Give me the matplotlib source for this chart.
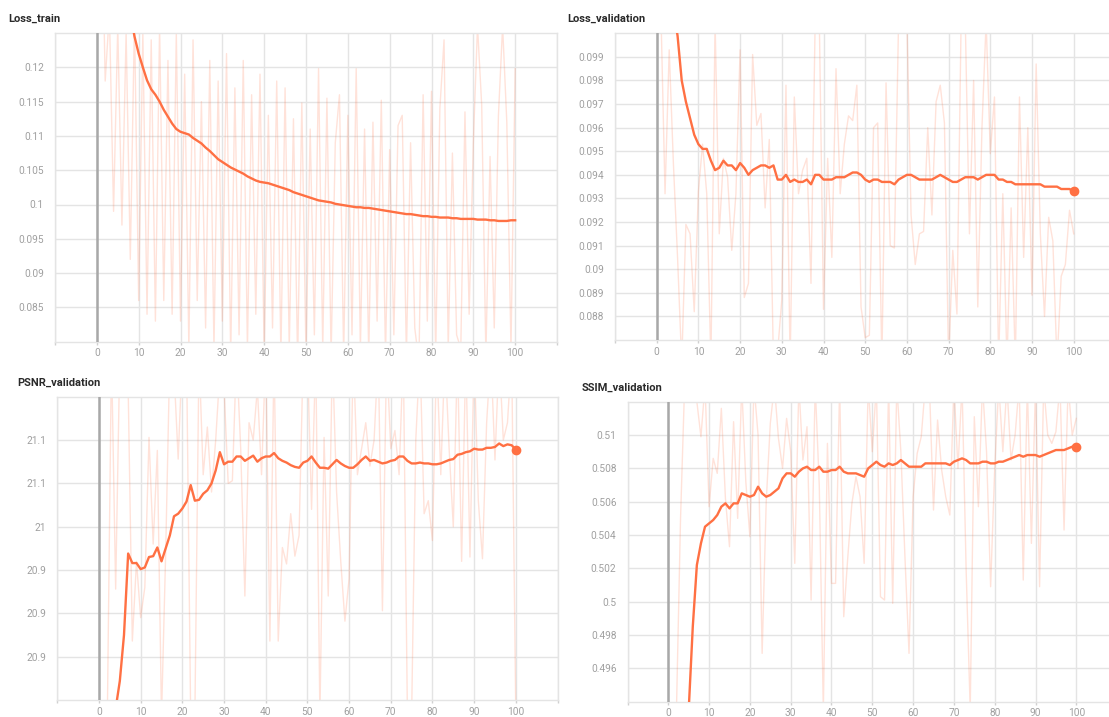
import matplotlib
matplotlib.use('Agg')
import matplotlib.pyplot as plt
import numpy as np

plt.rcParams.update({
    'font.family': ['Roboto', 'DejaVu Sans'],
    'figure.dpi': 100,
})

FIG_W, FIG_H = 1109, 717

STEPS = list(range(101))
X_TICKS = list(range(-10, 111, 10))
X_LABELS = ['' if t < 0 or t > 100 else str(t) for t in X_TICKS]

# ---- Loss_train -------------------------------------------------------------
LOSS_TRAIN_RAW = [
    0.16, 0.15, 0.118, 0.128, 0.099, 0.126, 0.097, 0.125, 0.092, 0.127,
    0.086, 0.125, 0.084, 0.124, 0.083, 0.126, 0.086, 0.121, 0.084, 0.125,
    0.083, 0.119, 0.079, 0.124, 0.086, 0.115, 0.082, 0.121, 0.079, 0.118,
    0.083, 0.122, 0.078, 0.117, 0.081, 0.121, 0.079, 0.116, 0.084, 0.119,
    0.078, 0.113, 0.082, 0.118, 0.078, 0.117, 0.079, 0.1125, 0.077, 0.1148,
    0.078, 0.111, 0.081, 0.1198, 0.079, 0.1155, 0.078, 0.109, 0.116, 0.078,
    0.113, 0.081, 0.1198, 0.079, 0.111, 0.078, 0.112, 0.083, 0.1152, 0.078,
    0.108, 0.081, 0.1115, 0.113, 0.078, 0.109, 0.082, 0.077, 0.116, 0.083,
    0.1165, 0.078, 0.114, 0.124, 0.079, 0.1075, 0.081, 0.079, 0.1135, 0.084,
    0.109, 0.126, 0.1145, 0.078, 0.107, 0.082, 0.113, 0.126, 0.112, 0.079,
    0.1198,
]
LOSS_TRAIN_SMOOTH = [
    0.175, 0.168, 0.160, 0.153, 0.147, 0.141, 0.136, 0.132, 0.128, 0.1245,
    0.1220, 0.1200, 0.1181, 0.1168, 0.1160, 0.1150, 0.1138, 0.1128, 0.1118, 0.1110,
    0.1106, 0.1104, 0.1102, 0.1097, 0.1093, 0.1089, 0.1083, 0.1078, 0.1072, 0.1066,
    0.1062, 0.1058, 0.1054, 0.1051, 0.1048, 0.1045, 0.1041, 0.1038, 0.1035, 0.1033,
    0.1032, 0.1031, 0.1029, 0.1027, 0.1025, 0.1023, 0.1021, 0.1018, 0.1016, 0.1014,
    0.1012, 0.1010, 0.1008, 0.1006, 0.1005, 0.1004, 0.1003, 0.1001, 0.1000, 0.0999,
    0.0998, 0.0997, 0.0996, 0.0996, 0.0995, 0.0995, 0.0994, 0.0993, 0.0992, 0.0991,
    0.0990, 0.0989, 0.0988, 0.0987, 0.0986, 0.0986, 0.0985, 0.0984, 0.0983, 0.0983,
    0.0982, 0.0982, 0.0981, 0.0981, 0.0981, 0.0980, 0.0980, 0.0979, 0.0979, 0.0979,
    0.0979, 0.0978, 0.0978, 0.0978, 0.0977, 0.0977, 0.0976, 0.0976, 0.0976, 0.0977,
    0.0977,
]
LOSS_TRAIN_YTICKS = [0.085, 0.09, 0.095, 0.1, 0.105, 0.11, 0.115, 0.12]
LOSS_TRAIN_YLABELS = ['0.085', '0.09', '0.095', '0.1', '0.105', '0.11', '0.115', '0.12']

# ---- Loss_validation --------------------------------------------------------
LOSS_VAL_RAW = [
    0.105, 0.101, 0.0932, 0.0993, 0.0945, 0.0905, 0.086, 0.0919, 0.0915, 0.0882,
    0.0933, 0.0953, 0.0932, 0.086, 0.1005, 0.0915, 0.0947, 0.0939, 0.0908, 0.0932,
    0.0993, 0.0888, 0.0894, 0.0991, 0.0961, 0.0966, 0.0926, 0.0955, 0.086, 0.0865,
    0.0887, 0.0978, 0.086, 0.0973, 0.0932, 0.0942, 0.0947, 0.0894, 0.1005, 0.1005,
    0.0883, 0.0947, 0.0905, 0.0985, 0.0932, 0.0953, 0.0965, 0.0963, 0.0978, 0.0884,
    0.0871, 0.0872, 0.0960, 0.0962, 0.086, 0.0979, 0.0910, 0.0909, 0.1005, 0.1005,
    0.1005, 0.0923, 0.0902, 0.0915, 0.0916, 0.0960, 0.0923, 0.0971, 0.0978, 0.0962,
    0.086, 0.0908, 0.0881, 0.1005, 0.1005, 0.0915, 0.0980, 0.0884, 0.0960, 0.1005,
    0.0949, 0.0973, 0.086, 0.0932, 0.086, 0.0926, 0.086, 0.0973, 0.0905, 0.0960,
    0.0889, 0.0987, 0.0915, 0.0880, 0.0922, 0.0912, 0.086, 0.0897, 0.0902, 0.0925,
    0.0915,
]
LOSS_VAL_SMOOTH = [
    0.1050, 0.1040, 0.1030, 0.1020, 0.1010, 0.0999, 0.0980, 0.0971, 0.0964, 0.0957,
    0.0953, 0.0951, 0.0951, 0.0946, 0.0942, 0.0943, 0.0946, 0.0944, 0.0944, 0.0942,
    0.0945, 0.0943, 0.0940, 0.0942, 0.0943, 0.0944, 0.0944, 0.0943, 0.0944, 0.0938,
    0.0938, 0.0940, 0.0937, 0.0938, 0.0937, 0.0937, 0.0938, 0.0936, 0.0940, 0.0940,
    0.0938, 0.0938, 0.0938, 0.0939, 0.0939, 0.0939, 0.0940, 0.0941, 0.0941, 0.0940,
    0.0938, 0.0937, 0.0938, 0.0938, 0.0937, 0.0937, 0.0937, 0.0936, 0.0938, 0.0939,
    0.0940, 0.0940, 0.0939, 0.0938, 0.0938, 0.0938, 0.0938, 0.0939, 0.0940, 0.0939,
    0.0938, 0.0937, 0.0937, 0.0938, 0.0939, 0.0939, 0.0939, 0.0938, 0.0939, 0.0940,
    0.0940, 0.0940, 0.0938, 0.0938, 0.0937, 0.0937, 0.0936, 0.0936, 0.0936, 0.0936,
    0.0936, 0.0936, 0.0936, 0.0935, 0.0935, 0.0935, 0.0935, 0.0934, 0.0934, 0.0934,
    0.0933,
]
LOSS_VAL_YTICKS = [0.088, 0.089, 0.09, 0.091, 0.092, 0.093, 0.094, 0.095,
                   0.096, 0.097, 0.098, 0.099]
LOSS_VAL_YLABELS = ['0.088', '0.089', '0.09', '0.091', '0.092', '0.093', '0.094',
                    '0.095', '0.096', '0.097', '0.098', '0.099']

# ---- PSNR_validation --------------------------------------------------------
PSNR_RAW = [
    20.60, 20.70, 20.78, 21.20, 20.928, 21.20, 21.20, 21.16, 20.868, 20.96,
    20.895, 20.93, 21.103, 20.98, 21.088, 20.78, 20.97, 21.20, 21.18, 21.078,
    21.20, 21.20, 20.78, 20.78, 21.20, 21.06, 21.115, 21.04, 21.10, 21.18,
    21.16, 21.05, 21.053, 21.20, 21.09, 20.92, 21.12, 21.10, 21.16, 21.06,
    21.20, 20.868, 21.20, 20.868, 20.976, 20.957, 21.015, 20.966, 20.99, 21.20,
    21.20, 21.02, 21.20, 20.78, 21.103, 20.92, 21.20, 21.04, 20.96, 20.891,
    20.94, 21.20, 21.06, 21.09, 21.12, 21.07, 21.10, 21.20, 20.903, 21.20,
    21.09, 21.111, 21.06, 21.20, 20.78, 20.78, 21.10, 21.20, 21.015, 21.03,
    20.984, 21.20, 21.06, 21.20, 21.09, 21.00, 21.20, 20.96, 21.20, 20.965,
    21.20, 21.03, 20.963, 21.12, 21.20, 21.077, 21.20, 21.10, 21.12, 21.20,
    20.78,
]
PSNR_SMOOTH = [
    20.60, 20.65, 20.70, 20.74, 20.79, 20.822, 20.875, 20.969, 20.958, 20.958,
    20.951, 20.953, 20.965, 20.966, 20.976, 20.960, 20.975, 20.990, 21.012, 21.015,
    21.021, 21.029, 21.048, 21.030, 21.031, 21.038, 21.042, 21.050, 21.065, 21.086,
    21.072, 21.075, 21.075, 21.081, 21.081, 21.076, 21.079, 21.082, 21.075, 21.079,
    21.081, 21.081, 21.085, 21.079, 21.076, 21.074, 21.071, 21.069, 21.068, 21.074,
    21.076, 21.081, 21.074, 21.068, 21.068, 21.067, 21.072, 21.077, 21.073, 21.070,
    21.068, 21.068, 21.072, 21.077, 21.081, 21.076, 21.077, 21.075, 21.073, 21.074,
    21.076, 21.077, 21.081, 21.081, 21.076, 21.073, 21.073, 21.074, 21.073, 21.073,
    21.072, 21.072, 21.073, 21.075, 21.077, 21.078, 21.083, 21.084, 21.086, 21.087,
    21.090, 21.089, 21.089, 21.091, 21.091, 21.092, 21.096, 21.093, 21.095, 21.094,
    21.089,
]
PSNR_YTICKS = [20.85, 20.9, 20.95, 21.0, 21.05, 21.1]
PSNR_YLABELS = ['20.9', '20.9', '20.9', '21', '21.1', '21.1']

# ---- SSIM_validation --------------------------------------------------------
SSIM_RAW = [
    0.480, 0.488, 0.4935, 0.505, 0.513, 0.513, 0.513, 0.512, 0.5099, 0.513,
    0.5057, 0.5086, 0.5077, 0.5116, 0.5062, 0.5033, 0.5108, 0.5050, 0.513, 0.5072,
    0.5039, 0.513, 0.5100, 0.4969, 0.5060, 0.5107, 0.513, 0.5098, 0.5080, 0.5110,
    0.5090, 0.5023, 0.513, 0.5085, 0.5105, 0.5001, 0.513, 0.5070, 0.4935, 0.5095,
    0.5011, 0.5011, 0.513, 0.4991, 0.5027, 0.5059, 0.5075, 0.5063, 0.5023, 0.513,
    0.5090, 0.513, 0.5003, 0.5001, 0.513, 0.4999, 0.513, 0.5090, 0.5027, 0.4969,
    0.5063, 0.5089, 0.5099, 0.513, 0.513, 0.5055, 0.5109, 0.5079, 0.5063, 0.5052,
    0.513, 0.5080, 0.513, 0.5019, 0.4935, 0.5111, 0.5057, 0.513, 0.5090, 0.5009,
    0.5080, 0.513, 0.5090, 0.513, 0.5085, 0.5100, 0.513, 0.5013, 0.513, 0.5035,
    0.513, 0.5009, 0.513, 0.5100, 0.5095, 0.5102, 0.513, 0.5043, 0.513, 0.5100,
    0.5110,
]
SSIM_SMOOTH = [
    0.480, 0.483, 0.486, 0.489, 0.492, 0.4935, 0.4985, 0.5022, 0.5035, 0.5045,
    0.5047, 0.5049, 0.5052, 0.5057, 0.5059, 0.5056, 0.5059, 0.5059, 0.5065, 0.5064,
    0.5063, 0.5064, 0.5069, 0.5065, 0.5063, 0.5064, 0.5066, 0.5068, 0.5074, 0.5077,
    0.5077, 0.5075, 0.5078, 0.5080, 0.5081, 0.5079, 0.5079, 0.5081, 0.5078, 0.5078,
    0.5079, 0.5079, 0.5081, 0.5078, 0.5077, 0.5077, 0.5077, 0.5076, 0.5075, 0.5080,
    0.5082, 0.5084, 0.5082, 0.5081, 0.5083, 0.5082, 0.5083, 0.5085, 0.5083, 0.5081,
    0.5081, 0.5081, 0.5081, 0.5083, 0.5083, 0.5083, 0.5083, 0.5083, 0.5083, 0.5082,
    0.5084, 0.5085, 0.5086, 0.5085, 0.5083, 0.5083, 0.5083, 0.5084, 0.5084, 0.5083,
    0.5083, 0.5084, 0.5084, 0.5085, 0.5086, 0.5087, 0.5088, 0.5087, 0.5088, 0.5088,
    0.5088, 0.5087, 0.5088, 0.5089, 0.5090, 0.5091, 0.5091, 0.5091, 0.5092, 0.5093,
    0.5093,
]
SSIM_YTICKS = [0.496, 0.498, 0.5, 0.502, 0.504, 0.506, 0.508, 0.51]
SSIM_YLABELS = ['0.496', '0.498', '0.5', '0.502', '0.504', '0.506', '0.508', '0.51']

LINE_COLOR = '#ff7043'
GRID_COLOR = '#e4e4e4'
ZERO_COLOR = '#a8a8a8'
TICK_COLOR = '#a0a0a0'
TITLE_COLOR = '#2a2a2a'


def px_box(left, top, right, bottom):
    """Pixel box (top-left origin) -> figure fraction rect."""
    return [left / FIG_W, 1 - bottom / FIG_H, (right - left) / FIG_W, (bottom - top) / FIG_H]


def draw_panel(fig, box, title, title_xy, raw, smooth, ylim, yticks, ylabels, end_dot):
    ax = fig.add_axes(px_box(*box))
    ax.plot(STEPS, raw, color=LINE_COLOR, alpha=0.2, linewidth=1.0, zorder=2)
    ax.plot(STEPS, smooth, color=LINE_COLOR, linewidth=1.7, zorder=4,
            solid_joinstyle='round')
    if end_dot:
        ax.plot([STEPS[-1]], [smooth[-1]], 'o', color=LINE_COLOR, markersize=6, zorder=5)
    ax.axvline(0, color=ZERO_COLOR, linewidth=1.8, zorder=3)

    ax.set_xlim(-10, 110)
    ax.set_ylim(*ylim)
    ax.set_xticks(X_TICKS)
    ax.set_xticklabels(X_LABELS)
    ax.set_yticks(yticks)
    ax.set_yticklabels(ylabels)
    ax.grid(True, color=GRID_COLOR, linewidth=1.0, zorder=0)
    ax.set_axisbelow(True)
    for spine in ax.spines.values():
        spine.set_color(GRID_COLOR)
        spine.set_linewidth(1.0)
    ax.tick_params(axis='x', length=2.2, width=1, color='#d0d0d0', pad=2.5,
                   labelsize=7.3, labelcolor=TICK_COLOR)
    ax.tick_params(axis='y', length=0, pad=8, labelsize=7.3, labelcolor=TICK_COLOR)

    fig.text(title_xy[0] / FIG_W, 1 - title_xy[1] / FIG_H, title,
             fontsize=8, fontweight='semibold', color=TITLE_COLOR,
             ha='left', va='center')
    return ax


fig = plt.figure(figsize=(FIG_W / 100, FIG_H / 100), dpi=100)
fig.patch.set_facecolor('white')

draw_panel(fig, (55, 33, 557, 341.7), 'Loss_train', (8, 19),
           LOSS_TRAIN_RAW, LOSS_TRAIN_SMOOTH, (0.08, 0.125),
           LOSS_TRAIN_YTICKS, LOSS_TRAIN_YLABELS, end_dot=False)
draw_panel(fig, (615, 33.3, 1115.4, 340), 'Loss_validation', (567, 18.5),
           LOSS_VAL_RAW, LOSS_VAL_SMOOTH, (0.087, 0.1),
           LOSS_VAL_YTICKS, LOSS_VAL_YLABELS, end_dot=True)
draw_panel(fig, (57.3, 396.7, 557.5, 700), 'PSNR_validation', (17, 382.7),
           PSNR_RAW, PSNR_SMOOTH, (20.8, 21.15),
           PSNR_YTICKS, PSNR_YLABELS, end_dot=True)
draw_panel(fig, (627.5, 401.7, 1117.1, 701.7), 'SSIM_validation', (582, 387.3),
           SSIM_RAW, SSIM_SMOOTH, (0.494, 0.512),
           SSIM_YTICKS, SSIM_YLABELS, end_dot=True)

fig.savefig('out.png', dpi=100)
